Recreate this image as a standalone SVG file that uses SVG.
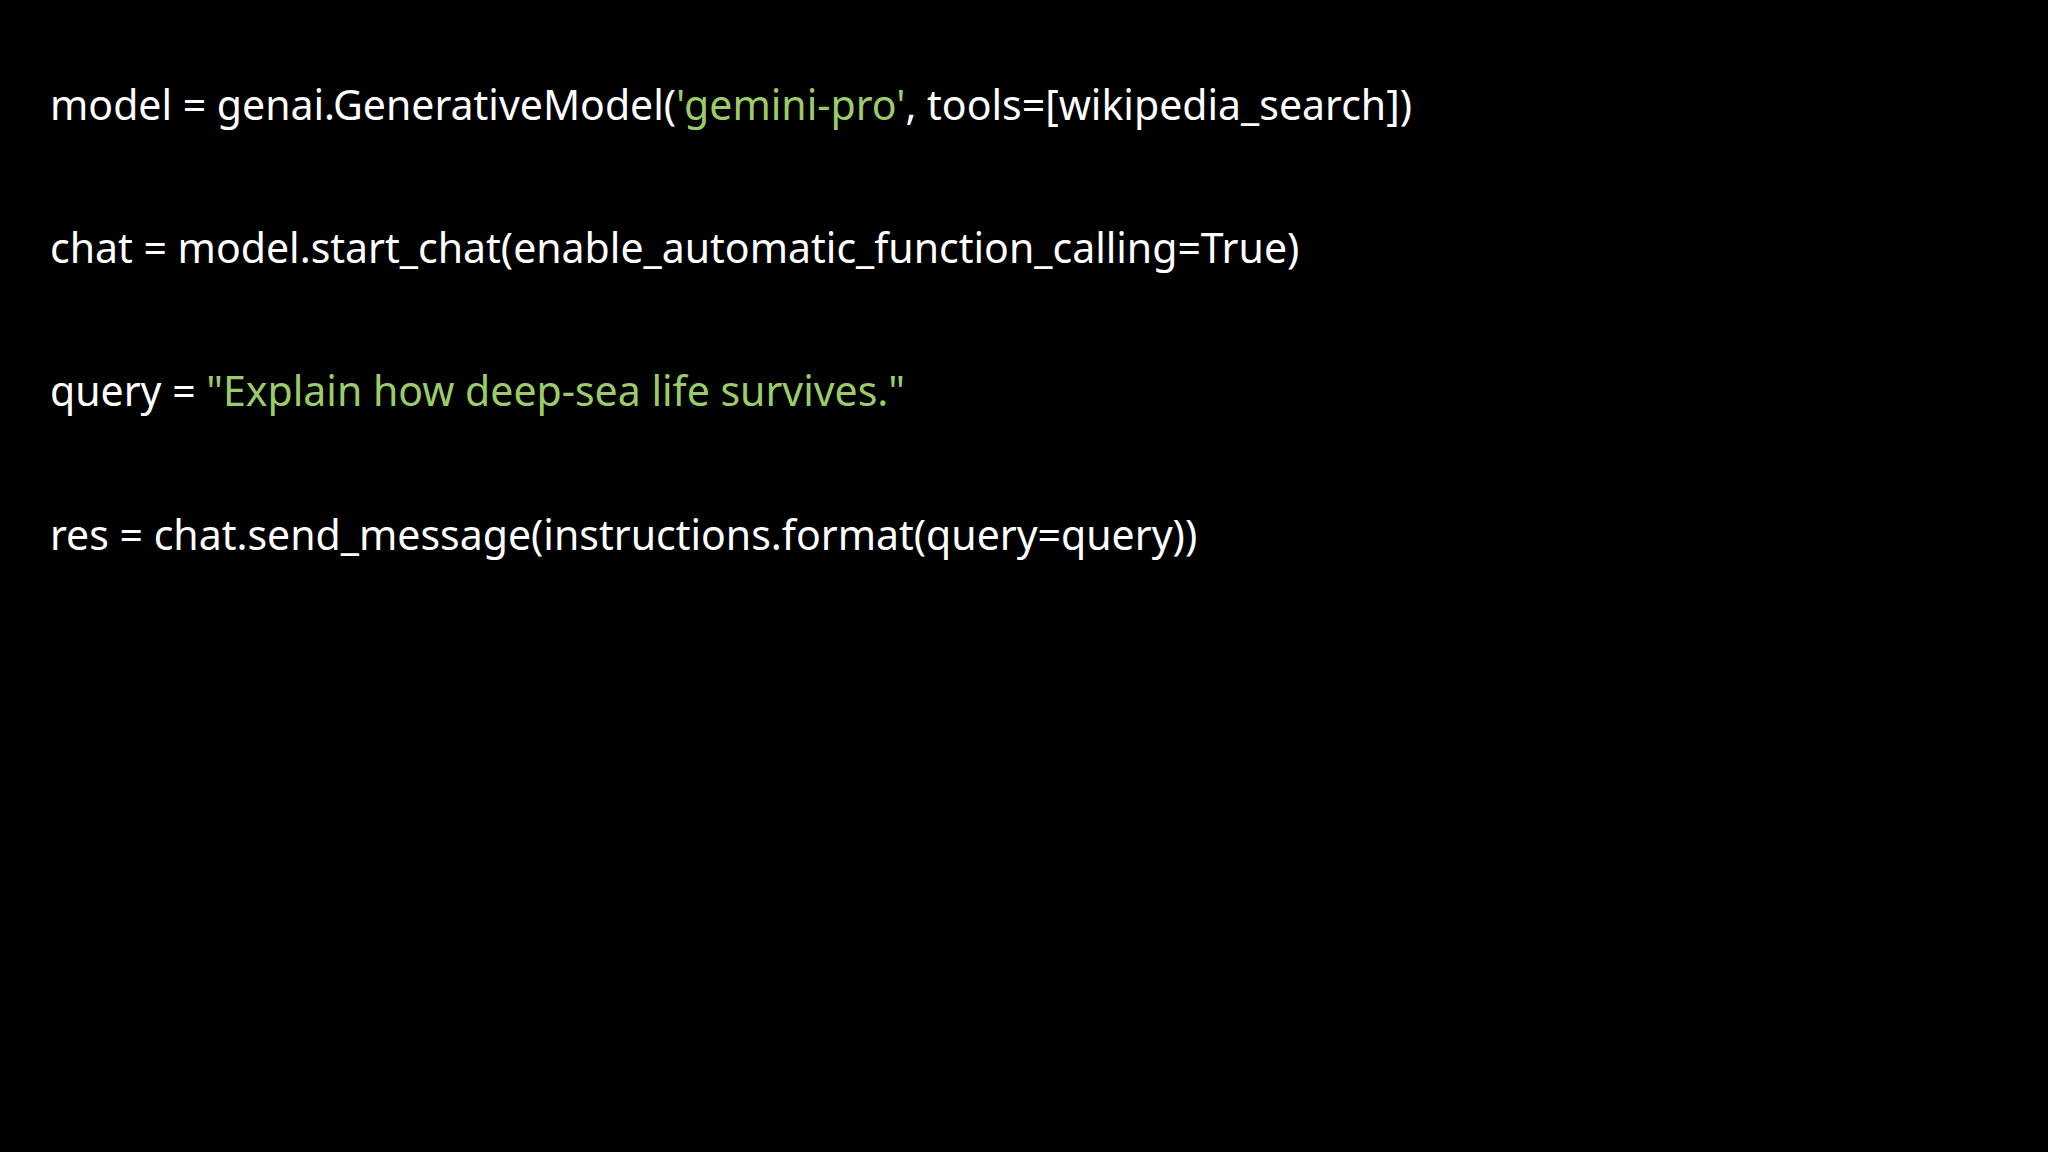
<svg xmlns="http://www.w3.org/2000/svg" width="2048" height="1152" viewBox="0 0 2048 1152">
<style>
text{font-family:"Noto Sans","Open Sans",sans-serif;font-size:41px;fill:#ffffff}
.s{fill:#9ccc6a}
</style>
<rect width="2048" height="1152" fill="#000"/>
<g id="code">
<text x="50" y="120">model = genai.GenerativeModel(<tspan class="s">'gemini-pro'</tspan>, tools=[wikipedia_search])</text>
<text x="50" y="263">chat = model.start_chat(enable_automatic_function_calling=True)</text>
<text x="50" y="406">query = <tspan class="s">"Explain how deep-sea life survives."</tspan></text>
<text x="50" y="550">res = chat.send_message(instructions.format(query=query))</text>
</g>
</svg>
